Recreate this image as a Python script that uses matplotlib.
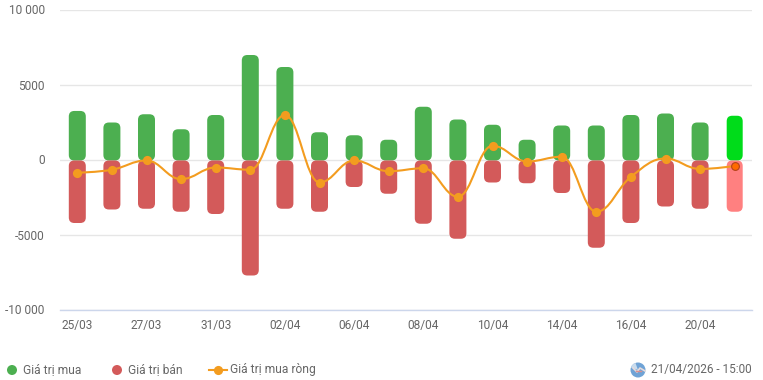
import numpy as np
import matplotlib
matplotlib.use('Agg')
import matplotlib.pyplot as plt
from matplotlib.patches import FancyBboxPatch, PathPatch, Circle, Wedge
from matplotlib.path import Path
from matplotlib.ticker import FuncFormatter

plt.rcParams['font.family'] = ['Roboto', 'DejaVu Sans']

dates = ['25/03', '26/03', '27/03', '30/03', '31/03', '01/04', '02/04', '03/04', '06/04', '07/04',
         '08/04', '09/04', '10/04', '13/04', '14/04', '15/04', '16/04', '17/04', '20/04', '21/04']
buy = [3270, 2500, 3050, 2050, 3000, 7000, 6200, 1850, 1650, 1350,
       3550, 2700, 2350, 1350, 2300, 2300, 3000, 3100, 2500, 2950]
sell = [-4200, -3300, -3250, -3450, -3600, -7700, -3250, -3450, -1800, -2250,
        -4250, -5250, -1500, -1550, -2200, -5850, -4200, -3100, -3250, -3450]
net = [-850, -650, -30, -1280, -500, -650, 3000, -1500, -30, -750,
       -550, -2450, 950, -100, 220, -3450, -1120, 100, -600, -400]

GREEN = '#4caf50'
RED = '#d35a5a'
ORANGE = '#f39c1f'
TEXT = '#666666'
W, H = 763, 380


def spline_path(xs, ys):
    # same smoothing idea as a highcharts spline, flat at local extrema
    sm = 1.5
    verts = [(xs[0], ys[0])]
    codes = [Path.MOVETO]
    rc = (xs[0], ys[0])
    for i in range(1, len(xs)):
        x, y = xs[i], ys[i]
        lc = (x, y)
        nrc = (x, y)
        if i < len(xs) - 1:
            lx = (sm * x + xs[i - 1]) / (sm + 1)
            ly = (sm * y + ys[i - 1]) / (sm + 1)
            rx = (sm * x + xs[i + 1]) / (sm + 1)
            ry = (sm * y + ys[i + 1]) / (sm + 1)
            corr = (ry - ly) * (rx - x) / (rx - lx) + y - ry
            ly += corr
            ry += corr
            if ly > ys[i - 1] and ly > y:
                ly = max(ys[i - 1], y)
                ry = 2 * y - ly
            elif ly < ys[i - 1] and ly < y:
                ly = min(ys[i - 1], y)
                ry = 2 * y - ly
            if ry > ys[i + 1] and ry > y:
                ry = max(ys[i + 1], y)
                ly = 2 * y - ry
            elif ry < ys[i + 1] and ry < y:
                ry = min(ys[i + 1], y)
                ly = 2 * y - ry
            lc = (lx, ly)
            nrc = (rx, ry)
        verts += [rc, lc, (x, y)]
        codes += [Path.CURVE4] * 3
        rc = nrc
    return Path(verts, codes)


def main():
    fig = plt.figure(figsize=(W / 100, H / 100), dpi=100)
    ax = fig.add_axes([60 / W, 1 - 309.5 / H, 692 / W, 300 / H])
    ax.set_xlim(-0.5, len(dates) - 0.5)
    ax.set_ylim(-10000, 10000)

    ax.set_yticks([-10000, -5000, 0, 5000, 10000])
    ax.yaxis.set_major_formatter(FuncFormatter(
        lambda v, p: f'{int(v):,}'.replace(',', ' ') if abs(v) >= 10000 else f'{int(v)}'))
    ax.set_xticks(range(0, len(dates), 2))
    ax.set_xticklabels(dates[::2])
    ax.tick_params(length=0, labelsize=8.6, labelcolor=TEXT)
    ax.tick_params(axis='y', pad=11)
    ax.tick_params(axis='x', pad=6.5)
    ax.grid(axis='y', color='#e6e6e6', lw=1)
    ax.set_axisbelow(True)
    for s in ['top', 'left', 'right']:
        ax.spines[s].set_visible(False)
    ax.spines['bottom'].set_color('#ccd6eb')
    ax.spines['bottom'].set_linewidth(1)

    # pixel sizes turned into data units
    xpx = (len(dates)) / 692
    ypx = 20000 / 300
    aspect = ypx / xpx
    bw = 17 * xpx
    rad = 5.5 * xpx
    shift = -0.5 * ypx  # marks sit half a pixel under the grid
    base = -1.0 * ypx
    n = len(dates)
    for i in range(n):
        last = i == n - 1
        w = 16 * xpx if last else bw
        top = buy[i] + shift
        bottom = sell[i] + shift
        ax.add_patch(FancyBboxPatch((i - w / 2, base), w, top - base,
                                    boxstyle=f'round,pad=0,rounding_size={rad}',
                                    mutation_aspect=aspect, fc='#00dc1a' if last else GREEN, ec='none', zorder=2))
        ax.add_patch(FancyBboxPatch((i - w / 2, bottom), w, base - bottom,
                                    boxstyle=f'round,pad=0,rounding_size={rad}',
                                    mutation_aspect=aspect, fc='#ff8080' if last else RED, ec='none', zorder=2))

    x = np.arange(n, dtype=float)
    y = np.array(net, dtype=float) + shift
    ax.add_patch(PathPatch(spline_path(x, y), fc='none', ec=ORANGE, lw=1.5, zorder=3))
    ax.plot(x[:-1], y[:-1], ls='none', marker='o', ms=6.6, mfc=ORANGE, mew=0, zorder=4)
    ax.plot(x[-1:], y[-1:], ls='none', marker='o', ms=5.6, mfc='#ff6a00', mec='#b5431a', mew=0.8, zorder=5)

    # legend and the date stamp, in pixels
    ov = fig.add_axes([0, 0, 1, 1])
    ov.set_xlim(0, W)
    ov.set_ylim(H, 0)
    ov.axis('off')
    ov.set_aspect('equal')
    ly = 370
    ov.add_patch(Circle((12, ly), 5, fc=GREEN, ec='none'))
    ov.add_patch(Circle((117, ly), 5, fc=RED, ec='none'))
    ov.plot([209, 227], [ly, ly], color=ORANGE, lw=1.5)
    ov.plot([218], [ly], marker='o', ms=6.6, mew=0, color=ORANGE)
    ts = dict(va='center', fontsize=8.65, color=TEXT)
    ov.text(23, ly - 0.5, 'Giá trị mua', **ts)
    ov.text(128, ly - 0.5, 'Giá trị bán', **ts)
    ov.text(229.5, ly - 0.5, 'Giá trị mua ròng', **ts)
    ov.text(651, ly - 0.5, '21/04/2026 - 15:00', va='center', fontsize=8.5, color=TEXT)

    # globe icon
    ov.add_patch(Circle((638, ly), 7.5, fc='#6fa3d6', ec='none'))
    ov.add_patch(Wedge((638, ly), 7.5, 200, 250, fc='#c9dcee', ec='none'))
    ov.plot([633, 637, 640, 645], [ly - 2, ly + 2, ly - 2, ly + 1], color='#e8dcdc', lw=1.2)
    ov.plot([636, 641], [ly + 1, ly + 1], color='#d98f8f', lw=1)

    fig.savefig('out.png', dpi=100)


if __name__ == '__main__':
    main()
